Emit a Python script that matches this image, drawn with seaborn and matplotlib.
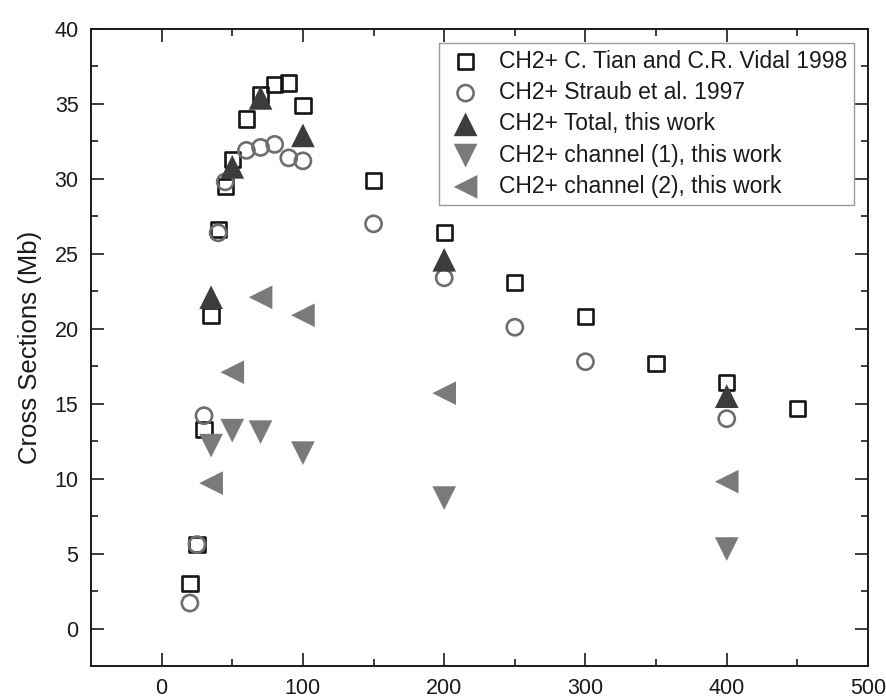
import matplotlib
matplotlib.use("Agg")
import matplotlib.pyplot as plt
from matplotlib.ticker import MultipleLocator
import seaborn as sns

# CH2+ cross sections (Mb) versus electron energy (eV)
tian_x = [20, 25, 30, 35, 40, 45, 50, 60, 70, 80, 90, 100, 150, 200, 250, 300, 350, 400, 450]
tian_y = [3.0, 5.6, 13.3, 20.9, 26.6, 29.5, 31.3, 34.0, 35.6, 36.3, 36.4, 34.9, 29.9, 26.4, 23.1, 20.8, 17.7, 16.4, 14.7]

straub_x = [20, 25, 30, 40, 45, 60, 70, 80, 90, 100, 150, 200, 250, 300, 400]
straub_y = [1.7, 5.6, 14.2, 26.4, 29.8, 31.9, 32.1, 32.3, 31.4, 31.2, 27.0, 23.4, 20.1, 17.8, 14.0]

work_x = [35, 50, 70, 100, 200, 400]
total_y = [22.1, 30.8, 35.4, 32.9, 24.6, 15.5]
chan1_y = [12.2, 13.2, 13.1, 11.7, 8.7, 5.3]
chan2_y = [9.7, 17.1, 22.1, 20.9, 15.7, 9.8]

labels = [
    "CH2+ C. Tian and C.R. Vidal 1998",
    "CH2+ Straub et al. 1997",
    "CH2+ Total, this work",
    "CH2+ channel (1), this work",
    "CH2+ channel (2), this work",
]

sns.set_theme(style="ticks")
plt.rcParams["font.family"] = ["Liberation Sans", "DejaVu Sans"]

fig = plt.figure(figsize=(8.87, 7.0), dpi=100)
ax = fig.add_axes([0.1026, 0.0486, 0.876, 0.910])

sns.scatterplot(x=tian_x, y=tian_y, ax=ax, marker="s", s=120,
                color="#151515", facecolor="none", edgecolor="#151515",
                linewidth=1.9, label=labels[0], legend=False, zorder=3)
sns.scatterplot(x=straub_x, y=straub_y, ax=ax, marker="o", s=135,
                color="#6e6e6e", facecolor="none", edgecolor="#6e6e6e",
                linewidth=1.9, label=labels[1], legend=False, zorder=3)
sns.scatterplot(x=work_x, y=total_y, ax=ax, marker="^", s=290,
                color="#3c3c3c", edgecolor="none", linewidth=0,
                label=labels[2], legend=False, zorder=4)
sns.scatterplot(x=work_x, y=chan1_y, ax=ax, marker="v", s=290,
                color="#7a7a7a", edgecolor="none", linewidth=0,
                label=labels[3], legend=False, zorder=4)
sns.scatterplot(x=work_x, y=chan2_y, ax=ax, marker="<", s=290,
                color="#7a7a7a", edgecolor="none", linewidth=0,
                label=labels[4], legend=False, zorder=4)

ax.set_xlim(-50, 500)
ax.set_ylim(-2.5, 40)
ax.xaxis.set_major_locator(MultipleLocator(100))
ax.xaxis.set_minor_locator(MultipleLocator(50))
ax.yaxis.set_major_locator(MultipleLocator(5))
ax.yaxis.set_minor_locator(MultipleLocator(2.5))

for side in ["left", "right", "top", "bottom"]:
    ax.spines[side].set_visible(True)
    ax.spines[side].set_linewidth(1.4)
    ax.spines[side].set_color("#1a1a1a")

ax.tick_params(which="both", direction="in", top=True, right=True,
               color="#1a1a1a", width=1.2)
ax.tick_params(which="major", length=9.5, pad=9, labelsize=15.5,
               labelcolor="#1a1a1a")
ax.tick_params(which="minor", length=4.8)

ax.set_xlabel("")
ax.set_ylabel("Cross Sections (Mb)", fontsize=18.5, color="#1a1a1a", labelpad=9)

leg = ax.legend(loc="upper right", bbox_to_anchor=(0.982, 0.978),
                borderaxespad=0, fontsize=16.5, frameon=True, fancybox=False,
                framealpha=1, edgecolor="#9a9a9a", handlelength=1.75,
                handletextpad=0.58, labelspacing=0.36, borderpad=0.3)
leg.get_frame().set_linewidth(1.0)
for txt in leg.get_texts():
    txt.set_color("#1a1a1a")

fig.savefig("out.png", dpi=100)
